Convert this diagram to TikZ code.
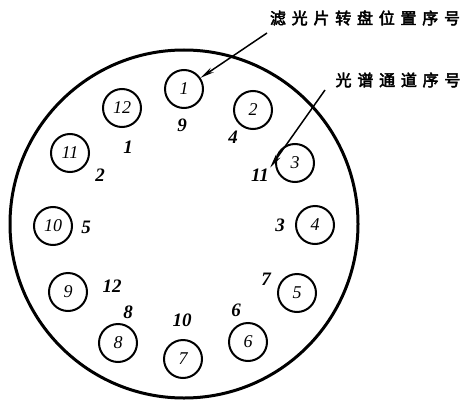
\documentclass[tikz,border=0pt]{standalone}
\usepackage{fontspec}
\setmainfont{Liberation Serif}
\newfontfamily\cjk[FakeBold=3,LetterSpace=36]{Noto Sans CJK SC}
\usetikzlibrary{arrows.meta}
\begin{document}
\begin{tikzpicture}[x=1pt,y=-1pt,
  slot/.style={circle,draw,line width=2pt,minimum size=38pt,inner sep=0pt,font=\fontsize{18}{18}\selectfont\itshape},
  chan/.style={inner sep=1pt,font=\fontsize{19}{19}\selectfont\bfseries\itshape},
  capt/.style={font=\cjk\fontsize{16}{16}\selectfont,inner sep=0pt},
  pointer/.style={line width=1.5pt,-{Stealth[length=14pt,width=5.5pt]}}]
\useasboundingbox (0,0) rectangle (462,401);
\node[circle,draw,line width=3pt,minimum size=348pt,inner sep=0pt] (disk) at (184,224) {};
% filter wheel positions
\node[slot] (p1)  at (184,89)  {1};
\node[slot] (p2)  at (253,110) {2};
\node[slot] (p3)  at (295,163) {3};
\node[slot] (p4)  at (315,225) {4};
\node[slot] (p5)  at (297,293) {5};
\node[slot] (p6)  at (248,342) {6};
\node[slot] (p7)  at (183,359) {7};
\node[slot] (p8)  at (118,343) {8};
\node[slot] (p9)  at (68,292)  {9};
\node[slot] (p10) at (53,226)  {10};
\node[slot] (p11) at (70,153)  {11};
\node[slot] (p12) at (122,108) {12};
% spectral channel numbers
\node[chan] (c1)  at (182,125) {9};
\node[chan] (c2)  at (233,137) {4};
\node[chan] (c3)  at (260,175) {11};
\node[chan] (c4)  at (280,225) {3};
\node[chan] (c5)  at (266,279) {7};
\node[chan] (c6)  at (236,310) {6};
\node[chan] (c7)  at (182,320) {10};
\node[chan] (c8)  at (128,312) {8};
\node[chan] (c9)  at (112,286) {12};
\node[chan] (c10) at (86,227)  {5};
\node[chan] (c11) at (100,175) {2};
\node[chan] (c12) at (128,147) {1};
% captions
\node[capt] (t1) at (365,18) {滤光片转盘位置序号};
\node[capt] (t2) at (398,80) {光谱通道序号};
\coordinate (a1) at (267,33);
\coordinate (a2) at (325,90);
\draw[pointer] (a1) -- (p1);
\draw[pointer] (a2) -- (c3.north east);
\end{tikzpicture}
\end{document}
